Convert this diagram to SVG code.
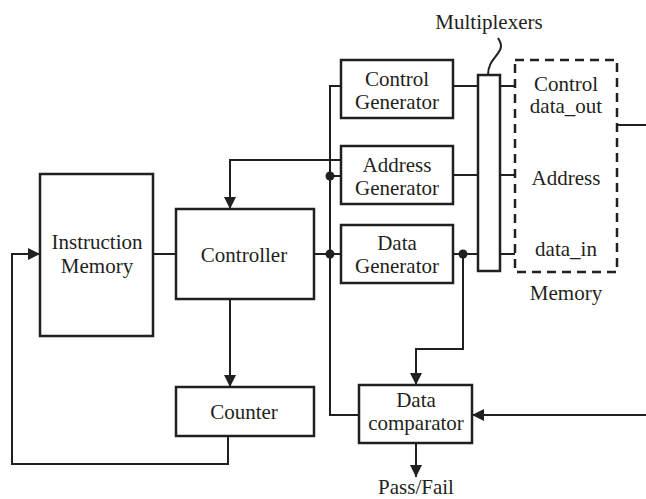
<svg xmlns="http://www.w3.org/2000/svg" width="646" height="499" viewBox="0 0 646 499">
  <style>
    .box { fill: #ffffff; stroke: #231f20; stroke-width: 2.5; }
    .dash { fill: none; stroke: #231f20; stroke-width: 2.5; stroke-dasharray: 9 6; }
    .wire { fill: none; stroke: #231f20; stroke-width: 2; }
    .dot { fill: #231f20; }
    text { font-family: "Liberation Serif", "Times New Roman", "DejaVu Serif", serif; font-size: 21px; fill: #231f20; text-anchor: middle; }
  </style>
  <defs>
    <marker id="arrow" viewBox="0 0 12 12" refX="12" refY="6" markerWidth="12" markerHeight="12" markerUnits="userSpaceOnUse" orient="auto">
      <path d="M0,0 L12,6 L0,12 Z" fill="#231f20"/>
    </marker>
  </defs>
  <rect width="646" height="499" fill="#ffffff"/>

  <!-- connectors -->
  <g id="connectors">
    <!-- instruction memory to controller -->
    <path class="wire" d="M153,254 H176"/>
    <!-- controller to shared bus -->
    <path class="wire" d="M314,254 H330"/>
    <!-- shared bus feeding the generators and the comparator -->
    <path class="wire" d="M341,86 H330 V415 H359"/>
    <path class="wire" d="M330,176 H341"/>
    <path class="wire" d="M330,254 H341"/>
    <!-- address generator back to controller -->
    <path class="wire" d="M341,160 H230 V209" marker-end="url(#arrow)"/>
    <!-- controller to counter -->
    <path class="wire" d="M230,299 V387" marker-end="url(#arrow)"/>
    <!-- counter back to instruction memory -->
    <path class="wire" d="M228,436 V464 H12 V254 H40" marker-end="url(#arrow)"/>
    <!-- generators to multiplexers -->
    <path class="wire" d="M453,86 H478"/>
    <path class="wire" d="M453,175 H478"/>
    <path class="wire" d="M453,254 H478"/>
    <!-- multiplexers to memory -->
    <path class="wire" d="M500,86 H515"/>
    <path class="wire" d="M500,175 H515"/>
    <path class="wire" d="M500,254 H515"/>
    <!-- memory data_out leaving right -->
    <path class="wire" d="M617,125 H646"/>
    <!-- data generator expected data to comparator -->
    <path class="wire" d="M463,254 V349 H416 V385" marker-end="url(#arrow)"/>
    <!-- read data into comparator -->
    <path class="wire" d="M646,415 H472" marker-end="url(#arrow)"/>
    <!-- pass/fail output -->
    <path class="wire" d="M416,443 V477" marker-end="url(#arrow)"/>
    <!-- multiplexers callout -->
    <path class="wire" d="M488,75 C488,62 496,58 500,50 C503,44 499,40 498,38" stroke-width="1.5"/>
    <!-- junctions -->
    <circle class="dot" cx="330" cy="176" r="4.5"/>
    <circle class="dot" cx="330" cy="254" r="4.5"/>
    <circle class="dot" cx="463" cy="254" r="4.5"/>
  </g>

  <g id="instruction-memory">
    <rect class="box" x="40" y="174" width="113" height="162"/>
    <text x="97" y="249">Instruction</text>
    <text x="97" y="273">Memory</text>
  </g>

  <g id="controller">
    <rect class="box" x="176" y="209" width="138" height="90"/>
    <text x="244" y="262">Controller</text>
  </g>

  <g id="counter">
    <rect class="box" x="176" y="387" width="138" height="49"/>
    <text x="244" y="419">Counter</text>
  </g>

  <g id="control-generator">
    <rect class="box" x="341" y="60" width="112" height="58"/>
    <text x="397" y="86">Control</text>
    <text x="397" y="109">Generator</text>
  </g>

  <g id="address-generator">
    <rect class="box" x="341" y="146" width="112" height="58"/>
    <text x="397" y="172">Address</text>
    <text x="397" y="195">Generator</text>
  </g>

  <g id="data-generator">
    <rect class="box" x="341" y="225" width="112" height="58"/>
    <text x="397" y="250">Data</text>
    <text x="397" y="273">Generator</text>
  </g>

  <g id="multiplexers">
    <rect class="box" x="478" y="75" width="22" height="196"/>
    <text x="489" y="29">Multiplexers</text>
  </g>

  <g id="memory">
    <rect class="dash" x="515" y="60" width="102" height="212"/>
    <text x="566" y="91">Control</text>
    <text x="566" y="113">data_out</text>
    <text x="566" y="185">Address</text>
    <text x="566" y="256">data_in</text>
    <text x="566" y="300">Memory</text>
  </g>

  <g id="data-comparator">
    <rect class="box" x="359" y="385" width="113" height="58"/>
    <text x="416" y="407">Data</text>
    <text x="416" y="430">comparator</text>
  </g>

  <g id="pass-fail">
    <text x="416" y="494">Pass/Fail</text>
  </g>
</svg>
